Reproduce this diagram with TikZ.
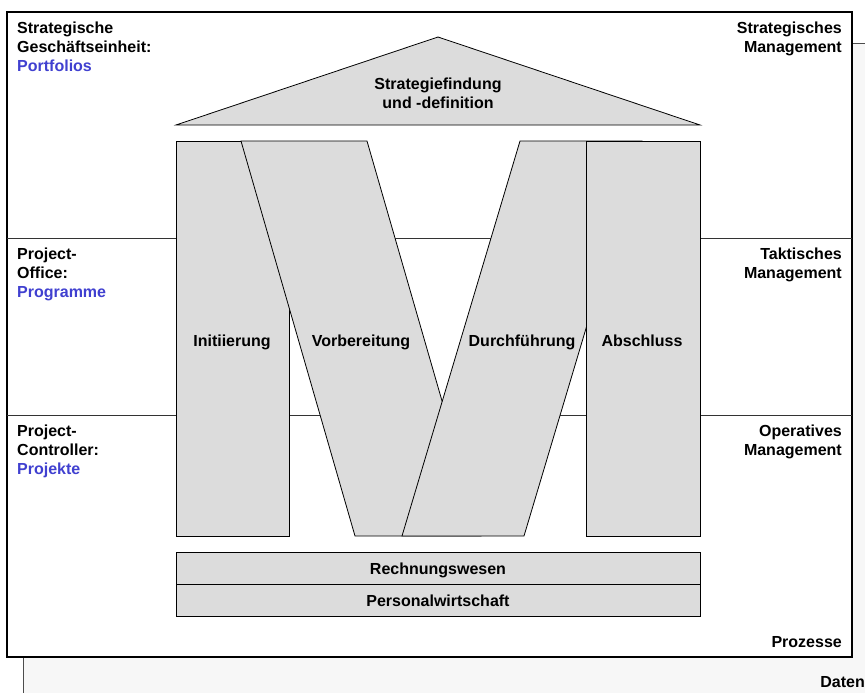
\documentclass[tikz,border=0pt]{standalone}
\usepackage{fontspec}
\setmainfont{Liberation Sans}
\definecolor{saeule}{RGB}{220,220,220}
\definecolor{blau}{RGB}{64,64,208}
\definecolor{hinten}{RGB}{247,247,247}
\begin{document}
\begin{tikzpicture}[x=1pt,y=-1pt,line join=miter,
	teil/.style={fill=saeule,draw=black,line width=.8pt},
	txt/.style={inner sep=0pt,font=\fontsize{16}{19}\selectfont\bfseries},
	links/.style={txt,anchor=north west,align=left},
	rechts/.style={txt,anchor=north east,align=right}]
	\useasboundingbox (0,0) rectangle (865,693);
	\clip (0,0) rectangle (865,693);
	% Daten (hinten)
	\draw[fill=hinten,draw=black!70,line width=.8pt] (23,43) rectangle (900,720);
	\node[txt,anchor=base east] (daten) at (865,687) {Daten};
	% Prozesse mit den drei Ebenen
	\draw[fill=white,line width=1.2pt] (7,12) rectangle (852,657);
	\draw[line width=1pt,black!80] (7,238) -- (852,238);
	\draw[line width=1pt,black!80] (7,415) -- (852,415);
	% Dach
	\draw[teil] (176,125) -- (438,37) -- (700,125) -- cycle;
	\node[txt,align=center,anchor=north] (dach) at (438,78) {Strategiefindung\\und -definition};
	% Saeulen
	\draw[teil] (176,141) rectangle (289,536);
	\draw[teil] (241,141) -- (367,141) -- (481,536) -- (355,536) -- cycle;
	\draw[teil] (520,141) -- (642,141) -- (524,536) -- (402,536) -- cycle;
	\draw[teil] (586,141) rectangle (700,536);
	\node[txt,anchor=base] (init) at (232,346) {Initiierung};
	\node[txt,anchor=base] (vorb) at (361,346) {Vorbereitung};
	\node[txt,anchor=base] (durch) at (522,346) {Durchführung};
	\node[txt,anchor=base] (absch) at (642,346) {Abschluss};
	% Fundament
	\draw[teil] (176,552) rectangle (700,584);
	\draw[teil] (176,584) rectangle (700,616);
	\node[txt,anchor=base] (rw) at (438,574) {Rechnungswesen};
	\node[txt,anchor=base] (pw) at (438,606) {Personalwirtschaft};
	% Beschriftungen links und rechts
	\node[links] (sge) at (17,22) {Strategische\\Geschäftseinheit:\\\textcolor{blau}{Portfolios}};
	\node[links] (po) at (17,248) {Project-\\Office:\\\textcolor{blau}{Programme}};
	\node[links] (pc) at (17,425) {Project-\\Controller:\\\textcolor{blau}{Projekte}};
	\node[rechts] (sm) at (842,22) {Strategisches\\Management};
	\node[rechts] (tm) at (842,248) {Taktisches\\Management};
	\node[rechts] (om) at (842,425) {Operatives\\Management};
	\node[txt,anchor=base east] (proz) at (842,647) {Prozesse};
\end{tikzpicture}
\end{document}
